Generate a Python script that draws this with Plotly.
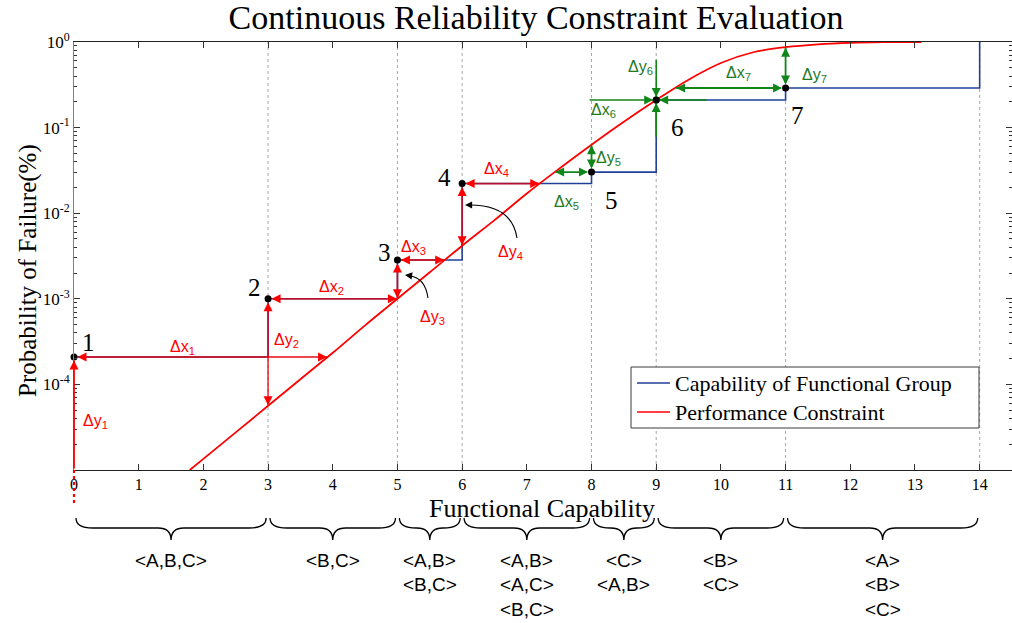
import math
import plotly.graph_objects as go

# ---------------------------------------------------------------- data
# Capability of the functional group: step breakpoints and probability of failure
cap_x = [0, 3, 5, 6, 8, 9, 11, 14]
cap_y = [2.09e-4, 1.0e-3, 2.84e-3, 2.22e-2, 3.02e-2, 0.21, 0.29, 1.0]

# Performance constraint curve
con_x = [1.79, 2.0, 2.5, 3.0, 3.5, 4.0, 4.5, 5.0, 5.5, 6.0, 6.5, 7.0, 7.5,
         8.0, 8.5, 9.0, 9.5, 10.0, 10.5, 11.0, 11.5, 12.0, 12.5, 13.1]
con_y = [1.0e-5, 1.35e-5, 2.75e-5, 5.62e-5, 1.15e-4, 2.34e-4, 4.9e-4, 1.0e-3,
         2.04e-3, 4.17e-3, 8.3e-3, 1.70e-2, 3.31e-2, 6.31e-2, 0.117, 0.21,
         0.363, 0.569, 0.759, 0.871, 0.94, 0.979, 0.995, 1.0]

# Evaluation points 1..7 (corners of the capability staircase)
pt_x = [0, 3, 5, 6, 8, 9, 11]
pt_y = [2.09e-4, 1.0e-3, 2.84e-3, 2.22e-2, 3.02e-2, 0.21, 0.29]
pt_names = ["1", "2", "3", "4", "5", "6", "7"]

# Where the constraint is met horizontally (dx) and vertically (dy) for each point
dx_end = [3.92, 5.0, 5.73, 7.20, 7.43, 9.0, 9.30]
dy_end = [1.0e-5, 5.62e-5, 1.0e-3, 4.17e-3, 6.31e-2, 0.21, 0.871]
meets = [False, False, False, False, True, True, True]

# Functional-group combinations for each capability interval
group_bounds = [(0, 3), (3, 5), (5, 6), (6, 8), (8, 9), (9, 11), (11, 14)]
group_labels = [
    ["<A,B,C>"],
    ["<B,C>"],
    ["<A,B>", "<B,C>"],
    ["<A,B>", "<A,C>", "<B,C>"],
    ["<C>", "<A,B>"],
    ["<B>", "<C>"],
    ["<A>", "<B>", "<C>"],
]

# ---------------------------------------------------------------- styling
W, H = 1012, 623
PL, PR, PT, PB = 74, 1012, 42, 470          # plot-area edges in pixels
X_MAX = 14.5
BLUE = "#21409a"
RED = "#ff0000"
SHAFT_RED = "rgba(235,0,10,0.72)"
GREEN = "#10861a"
GREEN_TXT = "#1f7a1f"
SERIF = "Liberation Serif"
SANS = "Liberation Sans"


def paper(px, py):
    return (px - PL) / (PR - PL), (PB - py) / (PB - PT)


def esc(s):
    return s.replace("<", "&lt;").replace(">", "&gt;")


fig = go.Figure()

fig.add_trace(go.Scatter(
    x=cap_x, y=cap_y, mode="lines", line=dict(color=BLUE, width=1.6, shape="hv"),
    name="Capability of Functional Group", showlegend=False, hoverinfo="skip"))

fig.add_trace(go.Scatter(
    x=con_x, y=con_y, mode="lines", line=dict(color=RED, width=1.8, shape="spline", smoothing=1.0),
    name="Performance Constraint", showlegend=False, hoverinfo="skip"))

fig.add_trace(go.Scatter(
    x=pt_x, y=pt_y, mode="markers", marker=dict(color="black", size=7),
    cliponaxis=False, showlegend=False, hoverinfo="skip"))

shapes = []
ann = []

# dotted guides at every capability step
for gx in [3, 5, 6, 8, 9, 11, 14]:
    shapes.append(dict(type="line", xref="x", yref="paper", x0=gx, x1=gx, y0=0, y1=1,
                       line=dict(color="#a8a8a8", width=1, dash="dot"), layer="below"))


def head(x, y, dxp, dyp, color, standoff=0.0, size=1.2, width=1.5):
    ann.append(dict(x=x, y=math.log10(y), xref="x", yref="y", ax=dxp, ay=dyp,
                    showarrow=True, arrowhead=2, arrowsize=size, arrowwidth=width,
                    arrowcolor=color, standoff=standoff, text=""))


def measure(x0, y0, x1, y1, shaft, hcol, s0, s1, start_head=True):
    ann.append(dict(x=x1, y=math.log10(y1), ax=x0, ay=math.log10(y0),
                    xref="x", yref="y", axref="x", ayref="y", showarrow=True,
                    arrowhead=0, arrowwidth=1.8, arrowcolor=shaft,
                    standoff=s1, startstandoff=s0, text=""))
    L = 9
    if y0 == y1:
        sgn = 1 if x1 > x0 else -1
        head(x1, y1, -sgn * L, 0, hcol, s1)
        if start_head:
            head(x0, y0, sgn * L, 0, hcol, s0)
    else:
        up = y1 > y0
        head(x1, y1, 0, L if up else -L, hcol, s1)
        if start_head:
            head(x0, y0, 0, -L if up else L, hcol, s0)


for i in range(7):
    px_, py_ = pt_x[i], pt_y[i]
    shaft = GREEN if meets[i] else SHAFT_RED
    hcol = GREEN if meets[i] else RED
    zero = dx_end[i] == px_ and dy_end[i] == py_
    if zero:
        continue
    # horizontal distance to the constraint
    measure(px_, py_, dx_end[i], py_, shaft, hcol, 3.5, 0.5)
    # vertical distance to the constraint
    if i == 0:
        measure(px_, dy_end[i], px_, py_, RED, RED, 0, 3.5, start_head=False)
    else:
        measure(px_, py_, px_, dy_end[i], shaft, hcol, 3.5, 0.5)

# point 6 sits on the constraint: arrows converge on it
x6, y6 = pt_x[5], pt_y[5]
fig.add_trace(go.Scatter(x=[7.97, 9.78], y=[y6, y6], mode="lines",
                         line=dict(color=GREEN, width=1.6), showlegend=False, hoverinfo="skip"))
fig.add_trace(go.Scatter(x=[x6, x6], y=[0.62, 0.078], mode="lines",
                         line=dict(color=GREEN, width=1.6), showlegend=False, hoverinfo="skip"))
for dxp, dyp in [(-9, 0), (9, 0), (0, -9), (0, 9)]:
    head(x6, y6, dxp, dyp, GREEN, 3.0)
# keep point 6 on top of its arrows
fig.add_trace(go.Scatter(x=[x6], y=[y6], mode="markers", marker=dict(color="black", size=7),
                         showlegend=False, hoverinfo="skip"))

# dotted continuation of the first vertical measure below the axis
x_a, y_a = paper(74, 470)
x_b, y_b = paper(74, 503)
shapes.append(dict(type="line", xref="paper", yref="paper", x0=x_a, x1=x_b, y0=y_a, y1=y_b,
                   line=dict(color=RED, width=2.2, dash="dot")))

# delta labels
delta_pos = {
    "Δx<sub>1</sub>": (182, 347, RED), "Δy<sub>1</sub>": (95, 421, RED),
    "Δx<sub>2</sub>": (331, 287, RED), "Δy<sub>2</sub>": (286, 340, RED),
    "Δx<sub>3</sub>": (413, 247, RED), "Δy<sub>3</sub>": (432, 317, RED),
    "Δx<sub>4</sub>": (496, 169, RED), "Δy<sub>4</sub>": (510, 252, RED),
    "Δx<sub>5</sub>": (566, 202, GREEN_TXT), "Δy<sub>5</sub>": (608, 158, GREEN_TXT),
    "Δx<sub>6</sub>": (603, 110, GREEN_TXT), "Δy<sub>6</sub>": (640, 67, GREEN_TXT),
    "Δx<sub>7</sub>": (738, 73, GREEN_TXT), "Δy<sub>7</sub>": (814, 75, GREEN_TXT),
}
for txt, (lx, ly, col) in delta_pos.items():
    ax_, ay_ = paper(lx, ly)
    ann.append(dict(x=ax_, y=ay_, xref="paper", yref="paper", text=txt, showarrow=False,
                    font=dict(family=SANS, size=16, color=col), xanchor="center", yanchor="middle"))

# point numbers
num_pos = [(88, 342), (254, 287), (384, 252), (444, 177), (611, 200), (677, 127), (797, 115)]
for name, (lx, ly) in zip(pt_names, num_pos):
    ax_, ay_ = paper(lx, ly)
    ann.append(dict(x=ax_, y=ay_, xref="paper", yref="paper", text=name, showarrow=False,
                    font=dict(family=SERIF, size=25, color="black"), xanchor="center", yanchor="middle"))

# curved pointers to the small vertical measures
for path_px, tip, tail in [
    ([(428, 298), (425, 277), (409, 276)], (405, 275), (8, 1)),
    ([(517, 238), (512, 205), (470, 205)], (465, 205), (8, 0)),
]:
    p = [paper(*q) for q in path_px]
    shapes.append(dict(type="path", xref="paper", yref="paper",
                       path=f"M {p[0][0]},{p[0][1]} Q {p[1][0]},{p[1][1]} {p[2][0]},{p[2][1]}",
                       line=dict(color="black", width=1.1)))
    tx, ty = paper(*tip)
    ann.append(dict(x=tx, y=ty, xref="paper", yref="paper", ax=tail[0], ay=tail[1],
                    showarrow=True, arrowhead=2, arrowsize=1.3, arrowwidth=1.1,
                    arrowcolor="black", text=""))

# braces and functional-group labels under the axis
_, yt = paper(0, 518)
_, ym = paper(0, 528)
_, yb = paper(0, 540)
for (a, b), labels in zip(group_bounds, group_labels):
    a2, b2 = (a + 0.03) / X_MAX, (b - 0.03) / X_MAX
    c = (a + b) / 2 / X_MAX
    re_, rm_ = 0.26 / X_MAX, 0.2 / X_MAX
    path = (f"M {a2},{yt} Q {a2},{ym} {a2 + re_},{ym} L {c - rm_},{ym} "
            f"Q {c},{ym} {c},{yb} Q {c},{ym} {c + rm_},{ym} "
            f"L {b2 - re_},{ym} Q {b2},{ym} {b2},{yt}")
    shapes.append(dict(type="path", xref="paper", yref="paper", path=path,
                       line=dict(color="black", width=1.3)))
    for k, lab in enumerate(labels):
        _, ly = paper(0, 560 + 24.5 * k)
        ann.append(dict(x=c, y=ly, xref="paper", yref="paper", text=esc(lab), showarrow=False,
                        font=dict(family=SANS, size=19, color="black"),
                        xanchor="center", yanchor="middle"))

# axis titles
tx, ty = paper(542, 508)
ann.append(dict(x=tx, y=ty, xref="paper", yref="paper", text="Functional Capability",
                showarrow=False, font=dict(family=SERIF, size=26, color="black"),
                xanchor="center", yanchor="middle"))
tx, ty = paper(28, 271)
ann.append(dict(x=tx, y=ty, xref="paper", yref="paper", text="Probability of Failure(%)",
                showarrow=False, textangle=-90, font=dict(family=SERIF, size=25, color="black"),
                xanchor="center", yanchor="middle"))

# legend box
lx0, ly0 = paper(631, 367)
lx1, ly1 = paper(979, 428)
shapes.append(dict(type="rect", xref="paper", yref="paper", x0=lx0, x1=lx1, y0=ly1, y1=ly0,
                   line=dict(color="#3a3a3a", width=1), fillcolor="white"))
for (name, col, rowy) in [("Capability of Functional Group", BLUE, 383),
                          ("Performance Constraint", RED, 412)]:
    s0x, sy = paper(637, rowy)
    s1x, _ = paper(670, rowy)
    shapes.append(dict(type="line", xref="paper", yref="paper", x0=s0x, x1=s1x, y0=sy, y1=sy,
                       line=dict(color=col, width=1.6)))
    tx, ty = paper(673, rowy)
    ann.append(dict(x=tx, y=ty, xref="paper", yref="paper", text=name, showarrow=False,
                    font=dict(family=SERIF, size=22, color="black"),
                    xanchor="left", yanchor="middle"))

minor_vals = [m * 10.0 ** e for e in range(-5, 0) for m in range(2, 10)]

fig.update_layout(
    width=W, height=H,
    margin=dict(l=PL, r=W - PR, t=PT, b=H - PB, pad=0),
    paper_bgcolor="white", plot_bgcolor="white",
    title=dict(text="Continuous Reliability Constraint Evaluation",
               font=dict(family=SERIF, size=34, color="black"),
               x=paper(536, 0)[0], xref="paper", xanchor="center",
               y=1 - 17 / H, yref="container", yanchor="middle"),
    xaxis=dict(range=[0, X_MAX], tickvals=list(range(15)), ticks="inside", ticklen=6,
               tickcolor="#333", showline=True, linecolor="#222", linewidth=1, mirror="ticks",
               showgrid=False, zeroline=False,
               tickfont=dict(family=SERIF, size=16, color="black")),
    yaxis=dict(type="log", range=[-5, 0], tickvals=[1e-4, 1e-3, 1e-2, 1e-1, 1],
               ticktext=["10<sup>-4</sup>", "10<sup>-3</sup>", "10<sup>-2</sup>",
                         "10<sup>-1</sup>", "10<sup>0</sup>"],
               ticks="inside", ticklen=6, tickcolor="#333",
               minor=dict(tickvals=minor_vals, ticks="inside", ticklen=3, tickcolor="#333",
                          showgrid=False),
               showline=True, linecolor="#808080", linewidth=1, mirror="ticks",
               showgrid=False, zeroline=False,
               tickfont=dict(family=SERIF, size=17, color="black")),
    shapes=shapes, annotations=ann,
)

fig.write_html("out.html")
